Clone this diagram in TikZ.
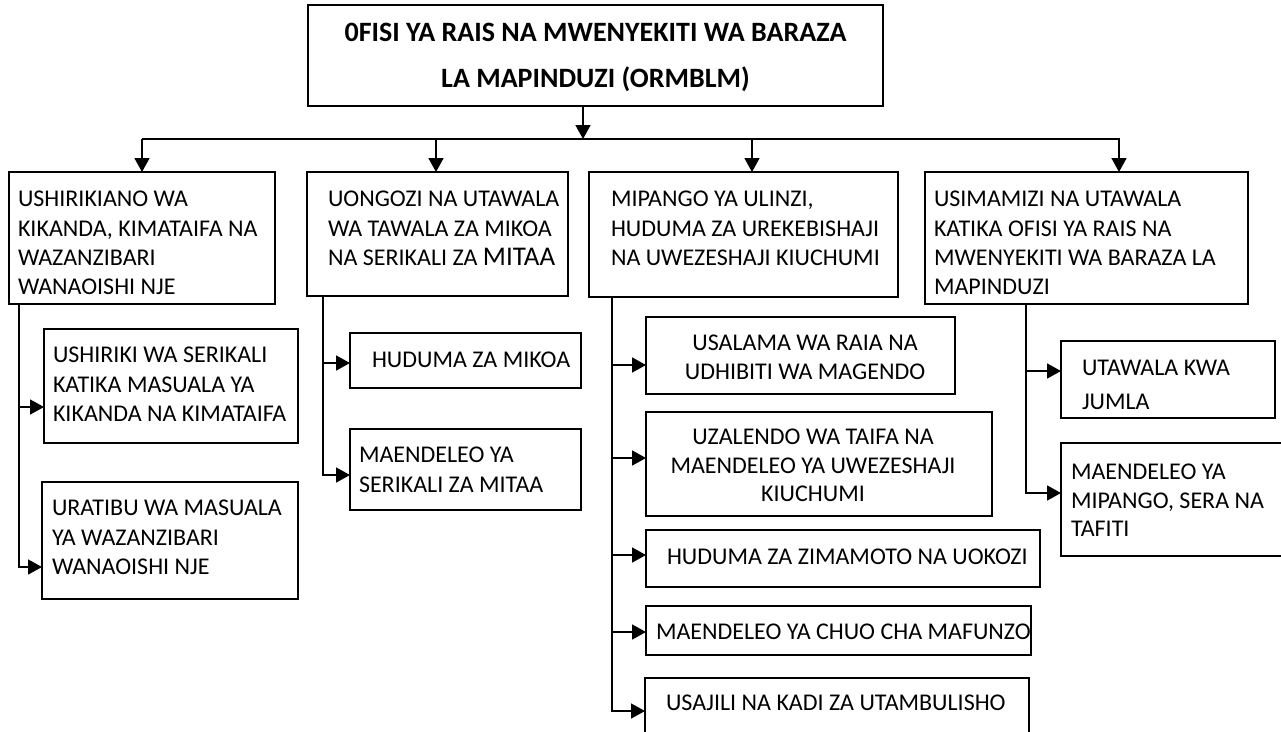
\documentclass[tikz,border=0pt]{standalone}
\usepackage{fontspec}
\setmainfont{Carlito}
\usetikzlibrary{arrows.meta}
\begin{document}
\begin{tikzpicture}[x=1pt,y=-1pt,
  box/.style={draw, line width=1.8pt, inner sep=0pt, outer sep=0pt, anchor=north west},
  txt/.style={inner sep=0pt, outer sep=0pt, anchor=north west, align=left, font=\fontsize{24}{29.3}\selectfont},
  ctxt/.style={inner sep=0pt, outer sep=0pt, anchor=north, align=center, font=\fontsize{24}{28.5}\selectfont},
  ttl/.style={inner sep=0pt, outer sep=0pt, anchor=north, align=center, font=\bfseries\fontsize{28}{46}\selectfont},
  ln/.style={line width=1.7pt},
  arr/.style={line width=1.7pt, -{Triangle[length=14pt,width=15pt]}}]
\useasboundingbox (0,0) rectangle (1281,731);
\clip (0,0) rectangle (1281,731);
% boxes
\node[box, minimum width=575pt, minimum height=101pt] (top) at (308,5) {};
\node[box, minimum width=266pt, minimum height=132pt] (A) at (9,172) {};
\node[box, minimum width=261pt, minimum height=124pt] (B) at (307,172) {};
\node[box, minimum width=309pt, minimum height=125pt] (C) at (589,172) {};
\node[box, minimum width=323pt, minimum height=132pt] (D) at (925,172) {};
\node[box, minimum width=254pt, minimum height=114pt] (A1) at (44,329) {};
\node[box, minimum width=256pt, minimum height=117pt] (A2) at (42,482) {};
\node[box, minimum width=231pt, minimum height=55pt] (B1) at (350,333) {};
\node[box, minimum width=231pt, minimum height=81pt] (B2) at (350,429) {};
\node[box, minimum width=309pt, minimum height=77pt] (C1) at (646,317) {};
\node[box, minimum width=346pt, minimum height=104pt] (C2) at (646,412) {};
\node[box, minimum width=394pt, minimum height=57pt] (C3) at (646,530) {};
\node[box, minimum width=385pt, minimum height=49pt] (C4) at (646,606) {};
\node[box, minimum width=384pt, minimum height=80pt] (C5) at (645,678) {};
\node[box, minimum width=214pt, minimum height=77pt] (D1) at (1061,341) {};
\node[box, minimum width=240pt, minimum height=113pt] (D2) at (1061,443) {};
% texts
\node[ttl] (topt) at (595.5,23.2) {0FISI YA RAIS NA MWENYEKITI WA BARAZA\\LA MAPINDUZI (ORMBLM)};
\node[txt] (At) at (18,191.4) {USHIRIKIANO WA\\KIKANDA, KIMATAIFA NA\\WAZANZIBARI\\WANAOISHI NJE};
\node[txt] (Bt) at (328,191.4) {UONGOZI NA UTAWALA\\WA TAWALA ZA MIKOA\\NA SERIKALI ZA {\fontsize{27}{29.3}\selectfont MITAA}};
\node[txt] (Ct) at (611,191.4) {MIPANGO YA ULINZI,\\HUDUMA ZA UREKEBISHAJI\\NA UWEZESHAJI KIUCHUMI};
\node[txt] (Dt) at (934,191.4) {USIMAMIZI NA UTAWALA\\KATIKA OFISI YA RAIS NA\\MWENYEKITI WA BARAZA LA\\MAPINDUZI};
\node[txt] (A1t) at (53,347.4) {USHIRIKI WA SERIKALI\\KATIKA MASUALA YA\\KIKANDA NA KIMATAIFA};
\node[txt] (A2t) at (52,500.4) {URATIBU WA MASUALA\\YA WAZANZIBARI\\WANAOISHI NJE};
\node[txt] (B1t) at (372,352.4) {HUDUMA ZA MIKOA};
\node[txt] (B2t) at (359,447.4) {MAENDELEO YA\\SERIKALI ZA MITAA};
\node[ctxt] (C1t) at (805,335.4) {USALAMA WA RAIA NA\\UDHIBITI WA MAGENDO};
\node[ctxt] (C2t) at (813,429.4) {UZALENDO WA TAIFA NA\\MAENDELEO YA UWEZESHAJI\\KIUCHUMI};
\node[txt] (C3t) at (667,549.4) {HUDUMA ZA ZIMAMOTO NA UOKOZI};
\node[txt] (C4t) at (656,624.4) {MAENDELEO YA CHUO CHA MAFUNZO};
\node[txt] (C5t) at (666,695.4) {USAJILI NA KADI ZA UTAMBULISHO};
\node[txt, font=\fontsize{24}{34}\selectfont] (D1t) at (1082,360.4) {UTAWALA KWA\\JUMLA};
\node[txt, font=\fontsize{24}{28.5}\selectfont] (D2t) at (1071,464.4) {MAENDELEO YA\\MIPANGO, SERA NA\\TAFITI};
% top connectors
\coordinate (trunk) at (583,139);
\coordinate (busL) at (142,139);
\coordinate (busR) at (1119,139);
\coordinate (busB) at (436,139);
\coordinate (busC) at (752,139);
\draw[arr] (trunk |- top.south) -- (trunk);
\draw[arr] (busL) -- (busR) -- (busR |- D.north);
\draw[arr] (busL) -- (busL |- A.north);
\draw[arr] (busB) -- (busB |- B.north);
\draw[arr] (busC) -- (busC |- C.north);
% column A
\coordinate (sA1) at (19,407);
\coordinate (sA2) at (19,567);
\draw[arr] (A.south -| sA2) -- (sA2) -- (sA2 -| A2.west);
\draw[arr] (sA1) -- (sA1 -| A1.west);
% column B
\coordinate (sB1) at (323,363);
\coordinate (sB2) at (323,475);
\draw[arr] (B.south -| sB2) -- (sB2) -- (sB2 -| B2.west);
\draw[arr] (sB1) -- (sB1 -| B1.west);
% column C
\coordinate (sC1) at (612,365);
\coordinate (sC2) at (612,458);
\coordinate (sC3) at (612,555);
\coordinate (sC4) at (612,632);
\coordinate (sC5) at (612,711);
\draw[arr] (C.south -| sC5) -- (sC5) -- (sC5 -| C5.west);
\draw[arr] (sC1) -- (sC1 -| C1.west);
\draw[arr] (sC2) -- (sC2 -| C2.west);
\draw[arr] (sC3) -- (sC3 -| C3.west);
\draw[arr] (sC4) -- (sC4 -| C4.west);
% column D
\coordinate (sD1) at (1026,371);
\coordinate (sD2) at (1026,493);
\draw[arr] (D.south -| sD2) -- (sD2) -- (sD2 -| D2.west);
\draw[arr] (sD1) -- (sD1 -| D1.west);
\end{tikzpicture}
\end{document}
